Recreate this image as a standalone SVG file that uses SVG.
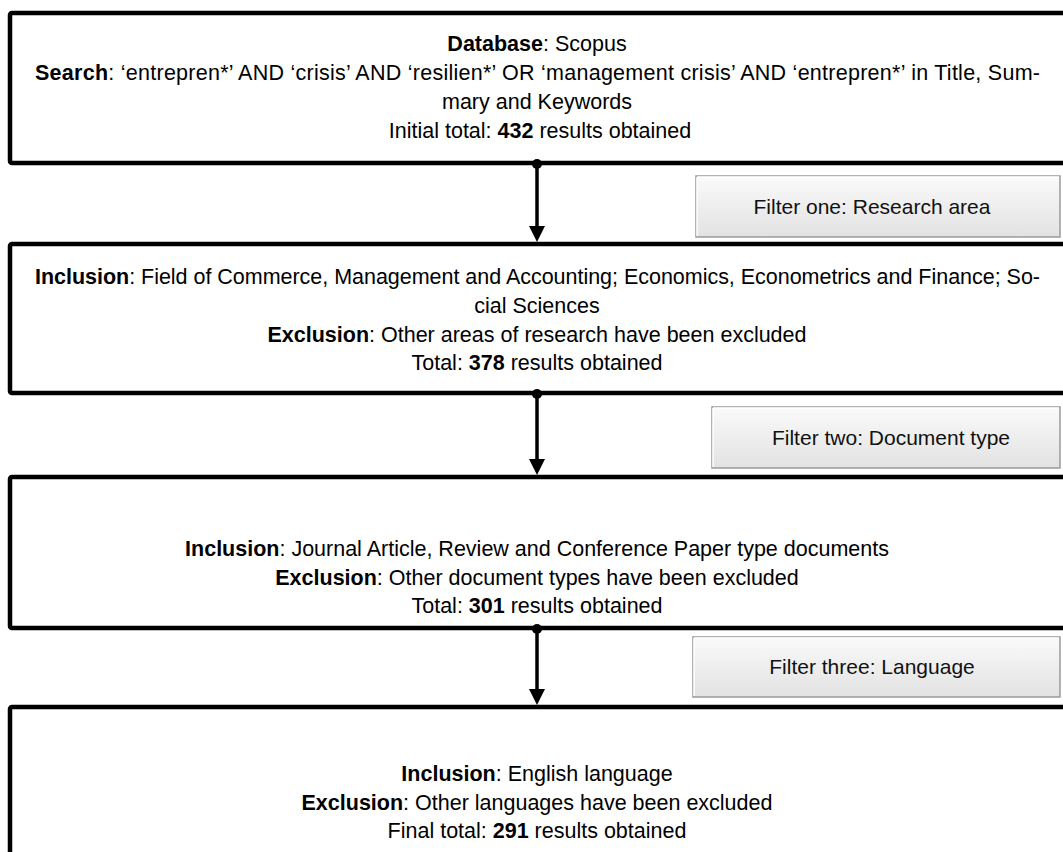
<svg xmlns="http://www.w3.org/2000/svg" width="1063" height="852" viewBox="0 0 1063 852">
<style>
.box{fill:#fff;stroke:#000;stroke-width:4.5}
.t{font-family:"Liberation Sans",Arial,sans-serif;font-size:21.5px;fill:#000;text-anchor:middle}
.j{text-anchor:start}
.b{font-weight:bold}
.f{fill:url(#g);stroke:#9a9a9a;stroke-width:1.5}
.ft{font-family:"Liberation Sans",Arial,sans-serif;font-size:21px;fill:#111;text-anchor:middle}
.c{stroke:#000;stroke-width:3.5;fill:none}
</style>
<defs>
<linearGradient id="g" x1="0" y1="0" x2="0" y2="1">
<stop offset="0" stop-color="#fafafa"/>
<stop offset="0.5" stop-color="#eeeeee"/>
<stop offset="1" stop-color="#e2e2e2"/>
</linearGradient>
</defs>
<rect width="1063" height="852" fill="#fff"/>

<g id="box1">
<rect class="box" x="10" y="13" width="1080" height="150" rx="2"/>
<text class="t" x="537" y="51"><tspan class="b">Database</tspan>: Scopus</text>
<text class="t j" x="35" y="80" textLength="1005" lengthAdjust="spacing"><tspan class="b">Search</tspan>: ‘entrepren*’ AND ‘crisis’ AND ‘resilien*’ OR ‘management crisis’ AND ‘entrepren*’ in Title, Sum-</text>
<text class="t" x="537" y="109">mary and Keywords</text>
<text class="t" x="540" y="138">Initial total: <tspan class="b">432</tspan> results obtained</text>
</g>

<g id="box2">
<rect class="box" x="10" y="244" width="1080" height="149" rx="2"/>
<text class="t j" x="35" y="284" textLength="1005" lengthAdjust="spacing"><tspan class="b">Inclusion</tspan>: Field of Commerce, Management and Accounting; Economics, Econometrics and Finance; So-</text>
<text class="t" x="537" y="313">cial Sciences</text>
<text class="t" x="537" y="342"><tspan class="b">Exclusion</tspan>: Other areas of research have been excluded</text>
<text class="t" x="537" y="370">Total: <tspan class="b">378</tspan> results obtained</text>
</g>

<g id="box3">
<rect class="box" x="10" y="477" width="1080" height="151" rx="2"/>
<text class="t" x="537" y="556"><tspan class="b">Inclusion</tspan>: Journal Article, Review and Conference Paper type documents</text>
<text class="t" x="537" y="585"><tspan class="b">Exclusion</tspan>: Other document types have been excluded</text>
<text class="t" x="537" y="613">Total: <tspan class="b">301</tspan> results obtained</text>
</g>

<g id="box4">
<rect class="box" x="10" y="707" width="1080" height="160" rx="2"/>
<text class="t" x="537" y="781"><tspan class="b">Inclusion</tspan>: English language</text>
<text class="t" x="537" y="810"><tspan class="b">Exclusion</tspan>: Other languages have been excluded</text>
<text class="t" x="537" y="838">Final total: <tspan class="b">291</tspan> results obtained</text>
</g>

<g id="filter1">
<rect class="f" x="696" y="176" width="364" height="61"/>
<path d="M697,177 H1059 M697,177 V236" stroke="#fff" stroke-width="1.5" fill="none"/>
<text class="ft" x="872" y="214">Filter one: Research area</text>
</g>
<g id="filter2">
<rect class="f" x="712" y="407" width="348" height="61"/>
<path d="M713,408 H1059 M713,408 V467" stroke="#fff" stroke-width="1.5" fill="none"/>
<text class="ft" x="891" y="445">Filter two: Document type</text>
</g>
<g id="filter3">
<rect class="f" x="693" y="637" width="367" height="60"/>
<path d="M694,638 H1059 M694,638 V696" stroke="#fff" stroke-width="1.5" fill="none"/>
<text class="ft" x="872" y="674">Filter three: Language</text>
</g>

<g id="connectors">
<circle cx="537" cy="164" r="5"/>
<line class="c" x1="537" y1="164" x2="537" y2="226"/>
<path d="M529,226 L545,226 L537,242 Z"/>
<circle cx="537" cy="394" r="5"/>
<line class="c" x1="537" y1="394" x2="537" y2="459"/>
<path d="M529,459 L545,459 L537,475 Z"/>
<circle cx="537" cy="629" r="5"/>
<line class="c" x1="537" y1="629" x2="537" y2="689"/>
<path d="M529,689 L545,689 L537,705 Z"/>
</g>
</svg>
